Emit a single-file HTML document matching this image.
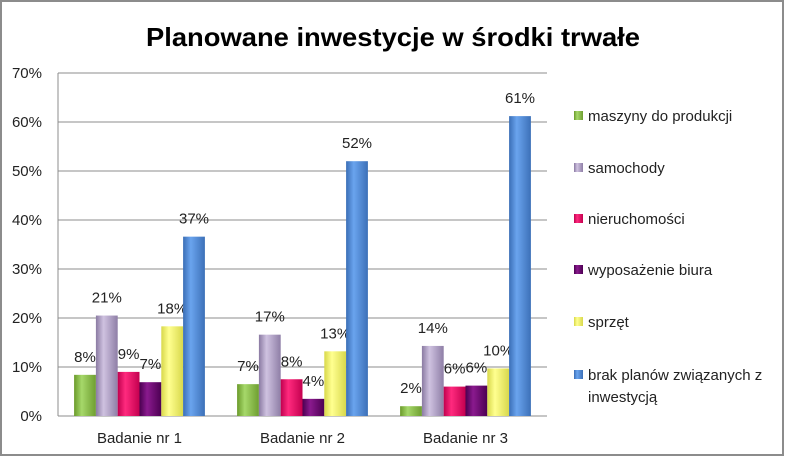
<!DOCTYPE html>
<html><head><meta charset="utf-8"><style>
html,body{margin:0;padding:0;background:#fff}
svg{display:block;font-family:"Liberation Sans",sans-serif}
</style></head><body>
<svg id="chart" width="788" height="460" viewBox="0 0 788 460">
<defs>
<linearGradient id="g0" x1="0" x2="1"><stop offset="0" stop-color="#6a9a2a"/><stop offset="0.35" stop-color="#a6d86a"/><stop offset="1" stop-color="#6e9e30"/></linearGradient>
<linearGradient id="g1" x1="0" x2="1"><stop offset="0" stop-color="#8a7aa2"/><stop offset="0.35" stop-color="#cfc2e0"/><stop offset="1" stop-color="#8e7ea6"/></linearGradient>
<linearGradient id="g2" x1="0" x2="1"><stop offset="0" stop-color="#c0004e"/><stop offset="0.35" stop-color="#ff2a7e"/><stop offset="1" stop-color="#c4004f"/></linearGradient>
<linearGradient id="g3" x1="0" x2="1"><stop offset="0" stop-color="#4a0050"/><stop offset="0.35" stop-color="#8a1a8e"/><stop offset="1" stop-color="#4c0052"/></linearGradient>
<linearGradient id="g4" x1="0" x2="1"><stop offset="0" stop-color="#d8d84a"/><stop offset="0.35" stop-color="#ffff90"/><stop offset="1" stop-color="#d8d84c"/></linearGradient>
<linearGradient id="g5" x1="0" x2="1"><stop offset="0" stop-color="#3a6eb6"/><stop offset="0.35" stop-color="#6aa4ee"/><stop offset="1" stop-color="#3c70b8"/></linearGradient>
</defs>
<rect x="1" y="1" width="782" height="454" fill="#fff" stroke="#8c8c8c" stroke-width="2"/>
<text x="393" y="46" text-anchor="middle" font-size="26" font-weight="bold" textLength="494" lengthAdjust="spacingAndGlyphs">Planowane inwestycje w środki trwałe</text>
<g id="grid"></g><g id="bars"></g><g id="legend"></g>
</svg>
<script>
const categories = ["Badanie nr 1","Badanie nr 2","Badanie nr 3"];
const seriesNames = ["maszyny do produkcji","samochody","nieruchomości","wyposażenie biura","sprzęt","brak planów związanych z inwestycją"];
const s0 = [8.4, 6.5, 2.0];
const s1 = [20.5, 16.6, 14.3];
const s2 = [9.0, 7.5, 6.0];
const s3 = [6.9, 3.5, 6.2];
const s4 = [18.3, 13.2, 9.7];
const s5 = [36.6, 52.0, 61.2];
const labels0 = ["8%","7%","2%"];
const labels1 = ["21%","17%","14%"];
const labels2 = ["9%","8%","6%"];
const labels3 = ["7%","4%","6%"];
const labels4 = ["18%","13%","10%"];
const labels5 = ["37%","52%","61%"];
const ticks = [0,10,20,30,40,50,60,70];
const tickLabels = ["0%","10%","20%","30%","40%","50%","60%","70%"];

const series=[s0,s1,s2,s3,s4,s5], lbls=[labels0,labels1,labels2,labels3,labels4,labels5];
const NS="http://www.w3.org/2000/svg";
const X0=58,X1=547,Y0=416,YT=73,YMAX=70;
const y=v=>Y0-(v/YMAX)*(Y0-YT);
const gw=(X1-X0)/categories.length, bw=21.8;
const bx=(c,s)=>X0+gw*c+gw/2-bw*series.length/2+bw*s;
function mk(t,a,p){const e=document.createElementNS(NS,t);for(const k in a)e.setAttribute(k,a[k]);p.appendChild(e);return e;}
const grid=document.getElementById('grid');
ticks.forEach((t,i)=>{
  const l=mk('line',{x1:X0,x2:X1,y1:y(t),y2:y(t),stroke:'#8c8c8c','stroke-width':1},grid);
  
  
  const tx=mk('text',{x:42,y:y(t)+5,'text-anchor':'end','font-size':15,fill:'#222'},grid);
  tx.textContent=tickLabels[i];
  
  
});
const ax=mk('line',{x1:X0,x2:X0,y1:YT,y2:Y0,stroke:'#8c8c8c'},grid);


categories.forEach((c,i)=>{
  const t=mk('text',{x:X0+gw*i+gw/2,y:443,'text-anchor':'middle','font-size':15,fill:'#222'},grid);
  t.textContent=c;
  
  
});
const bars=document.getElementById('bars');
series.forEach((s,si)=>{
  s.forEach((v,ci)=>{
    const r=mk('rect',{x:bx(ci,si),y:y(v),width:bw,height:Y0-y(v),fill:`url(#g${si})`},bars);
    
    
    const t=mk('text',{x:bx(ci,si)+bw/2,y:y(v)-13,'text-anchor':'middle','font-size':15,fill:'#222'},bars);
    t.textContent=lbls[si][ci];
    
    
  });
});
const leg=document.getElementById('legend');
const ly=[116,168,219,270,322,375];
seriesNames.forEach((n,i)=>{
  const r=mk('rect',{x:574,y:ly[i]-5,width:9,height:9,fill:`url(#g${i})`},leg);
  
  
  const t=mk('text',{x:588,y:ly[i]+5,'font-size':15,fill:'#222'},leg);
  
  
  if(i===5){
    const a=mk('tspan',{x:588},t);a.textContent="brak planów związanych z";
    const b=mk('tspan',{x:588,dy:22},t);b.textContent="inwestycją";
  } else t.textContent=n;
});
</script>
</body></html>
